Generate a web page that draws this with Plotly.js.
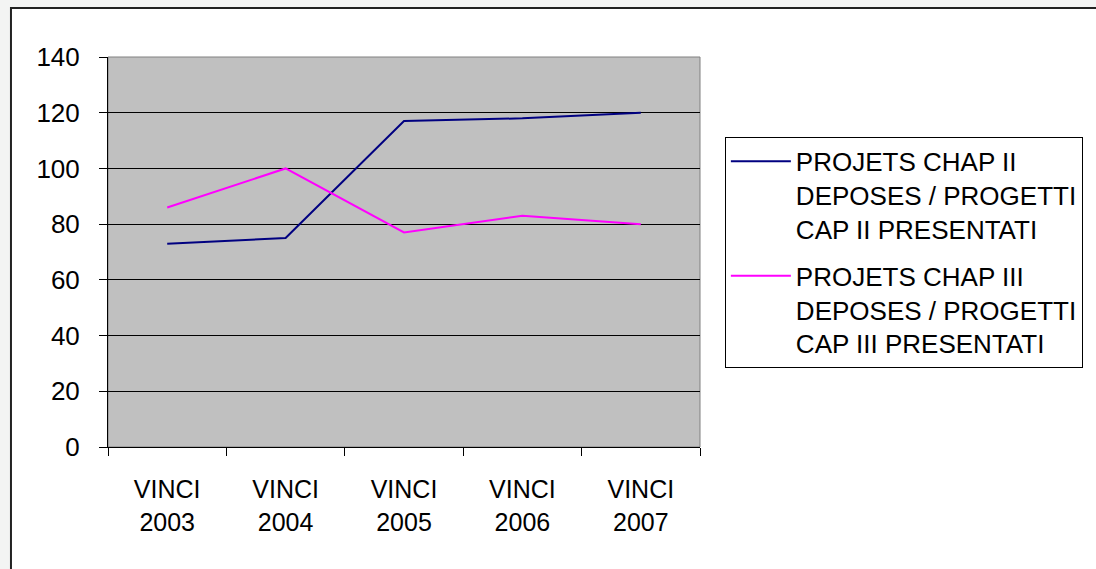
<!DOCTYPE html>
<html><head><meta charset="utf-8">
<script src="https://cdn.plot.ly/plotly-3.0.1.min.js"></script>
<style>html,body{margin:0;padding:0;background:#fff}#chart{width:1096px;height:569px}</style>
</head><body><div id="chart"></div>
<script>
const categories = ['VINCI<br>2003','VINCI<br>2004','VINCI<br>2005','VINCI<br>2006','VINCI<br>2007'];
const chapII = [73, 75, 117, 118, 120];
const chapIII = [86, 100, 77, 83, 80];
const seriesNames = ['PROJETS CHAP II<br>DEPOSES / PROGETTI<br>CAP II PRESENTATI',
                     'PROJETS CHAP III<br>DEPOSES / PROGETTI<br>CAP III PRESENTATI'];
const yTicks = [0,20,40,60,80,100,120,140];

const font = {family:'Liberation Sans, Arial, sans-serif', size:25, color:'#000'};
const traces = [
  {x:categories, y:chapII, type:'scatter', mode:'lines', name:seriesNames[0], legendgroup:'g1', line:{color:'#000080', width:2}},
  {x:categories, y:chapIII, type:'scatter', mode:'lines', name:seriesNames[1], legendgroup:'g2', line:{color:'#FF00FF', width:2}}
];
const layout = {
  width:1096, height:569,
  margin:{l:108, r:396, t:57, b:122},
  paper_bgcolor:'#f3f4f3',
  plot_bgcolor:'rgba(0,0,0,0)',
  font:font,
  showlegend:true,
  legend:{x:1.042, y:0.795, xanchor:'left', yanchor:'top', bgcolor:'#fff', bordercolor:'#000', borderwidth:1,
          font:{family:font.family, size:26, color:'#000'}, tracegroupgap:10, valign:'top', itemwidth:60},
  xaxis:{type:'category', range:[-0.5,4.5], showgrid:false, showline:true, linecolor:'#000', linewidth:1,
         ticks:'outside', tickson:'boundaries', ticklen:8, tickcolor:'#000', ticklabelstandoff:20,
         tickfont:font, fixedrange:true},
  yaxis:{range:[0,140], tickvals:yTicks, ticktext:yTicks.map(String), showgrid:true, gridcolor:'#000', gridwidth:1,
         showline:true, linecolor:'#000', linewidth:1, ticks:'outside', ticklen:8, tickcolor:'#000',
         ticklabelstandoff:14, zeroline:false, tickfont:{family:font.family, size:26, color:'#000'}, fixedrange:true},
  shapes:[
    {type:'rect', xref:'paper', yref:'paper', x0:-0.1639, x1:1.68, y0:-0.34, y1:1.1256,
     fillcolor:'#fff', line:{color:'#222', width:2}, layer:'below'},
    {type:'rect', xref:'paper', yref:'paper', x0:0, x1:1, y0:0, y1:1,
     fillcolor:'#C0C0C0', line:{color:'#808080', width:1}, layer:'below'}
  ]
};
Plotly.newPlot('chart', traces, layout, {staticPlot:true, displayModeBar:false});
</script></body></html>
